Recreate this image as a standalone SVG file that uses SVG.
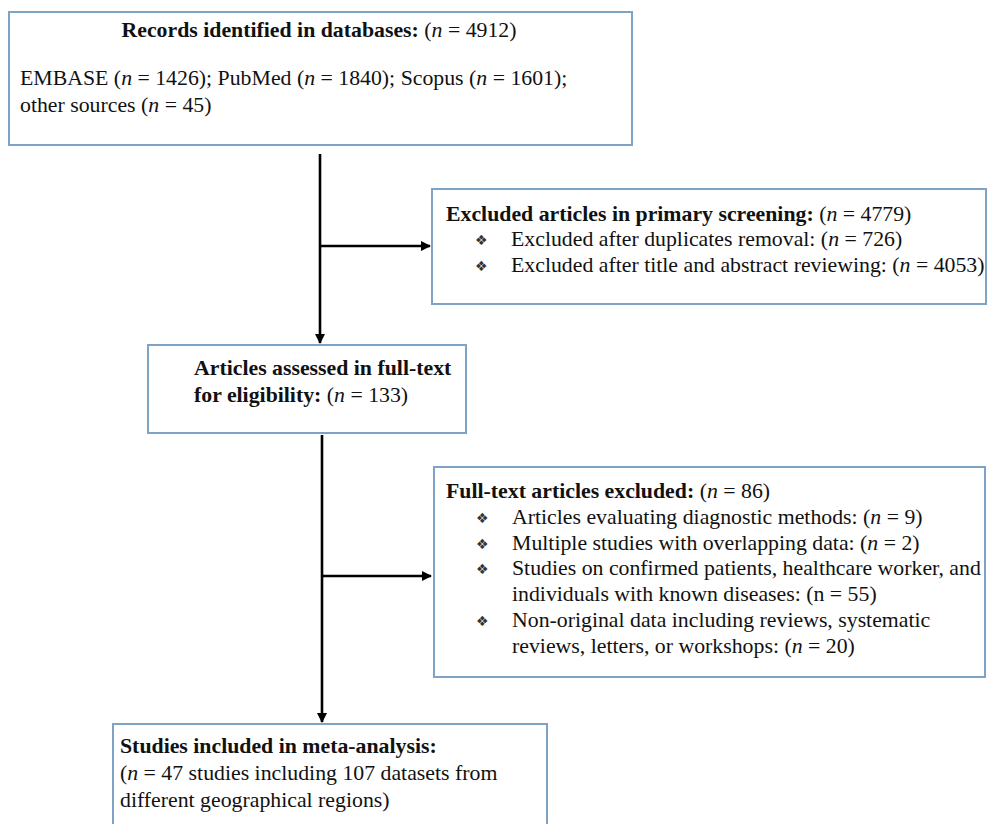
<svg xmlns="http://www.w3.org/2000/svg" width="987" height="824" viewBox="0 0 987 824">
<defs>
<marker id="ah" markerWidth="10" markerHeight="10" refX="9" refY="5" orient="auto" markerUnits="userSpaceOnUse">
<path d="M0,0 L10,5 L0,10 Z" fill="#000"/>
</marker>
<style>
.box{fill:#fff;stroke:#7fa3c6;stroke-width:2}
.t{font-family:'Liberation Serif','Times New Roman','DejaVu Serif',serif;font-size:21.8px;fill:#111}
.b{font-weight:bold}
.i{font-style:italic}
.bul{font-family:'DejaVu Sans',sans-serif;font-size:14px;fill:#333}
.c{stroke:#000;stroke-width:2.6;fill:none}
</style>
</defs>
<rect width="987" height="824" fill="#fff"/>
<g id="connectors">
<line class="c" x1="320" y1="154" x2="320" y2="343" marker-end="url(#ah)"/>
<line class="c" x1="321" y1="246" x2="430" y2="246" marker-end="url(#ah)"/>
<line class="c" x1="322" y1="435" x2="322" y2="722" marker-end="url(#ah)"/>
<line class="c" x1="323" y1="576" x2="431" y2="576" marker-end="url(#ah)"/>
</g>
<g id="records">
<rect class="box" x="9" y="12" width="623" height="133"/>
<text class="t" x="319" y="37" text-anchor="middle"><tspan class="b">Records identified in databases:</tspan> (<tspan class="i">n</tspan> = 4912)</text>
<text class="t" x="20" y="85">EMBASE (<tspan class="i">n</tspan> = 1426); PubMed (<tspan class="i">n</tspan> = 1840); Scopus (<tspan class="i">n</tspan> = 1601);</text>
<text class="t" x="20" y="112">other sources (<tspan class="i">n</tspan> = 45)</text>
</g>
<g id="excluded-primary">
<rect class="box" x="432" y="189" width="554" height="115"/>
<text class="t" x="446" y="221"><tspan class="b">Excluded articles in primary screening:</tspan> (<tspan class="i">n</tspan> = 4779)</text>
<text class="bul" x="475" y="245">❖</text>
<text class="t" x="511" y="246">Excluded after duplicates removal: (<tspan class="i">n</tspan> = 726)</text>
<text class="bul" x="475" y="271">❖</text>
<text class="t" x="511" y="272">Excluded after title and abstract reviewing: (<tspan class="i">n</tspan> = 4053)</text>
</g>
<g id="fulltext-assessed">
<rect class="box" x="148" y="345" width="318" height="88"/>
<text class="t b" x="194" y="375">Articles assessed in full-text</text>
<text class="t" x="194" y="402"><tspan class="b">for eligibility:</tspan> (<tspan class="i">n</tspan> = 133)</text>
</g>
<g id="fulltext-excluded">
<rect class="box" x="434" y="467" width="551" height="210"/>
<text class="t" x="446" y="498"><tspan class="b">Full-text articles excluded:</tspan> (<tspan class="i">n</tspan> = 86)</text>
<text class="bul" x="476" y="523">❖</text>
<text class="t" x="512" y="524">Articles evaluating diagnostic methods: (<tspan class="i">n</tspan> = 9)</text>
<text class="bul" x="476" y="549">❖</text>
<text class="t" x="512" y="550">Multiple studies with overlapping data: (<tspan class="i">n</tspan> = 2)</text>
<text class="bul" x="476" y="574">❖</text>
<text class="t" x="512" y="575">Studies on confirmed patients, healthcare worker, and</text>
<text class="t" x="512" y="601">individuals with known diseases:  (n = 55)</text>
<text class="bul" x="476" y="626">❖</text>
<text class="t" x="512" y="627">Non-original data including reviews, systematic</text>
<text class="t" x="512" y="653">reviews, letters, or workshops: (<tspan class="i">n</tspan> = 20)</text>
</g>
<g id="included">
<rect class="box" x="113" y="724" width="434" height="110"/>
<text class="t b" x="120" y="753">Studies included in meta-analysis:</text>
<text class="t" x="120" y="780">(<tspan class="i">n</tspan> = 47 studies including 107 datasets from</text>
<text class="t" x="120" y="807">different geographical regions)</text>
</g>
</svg>
